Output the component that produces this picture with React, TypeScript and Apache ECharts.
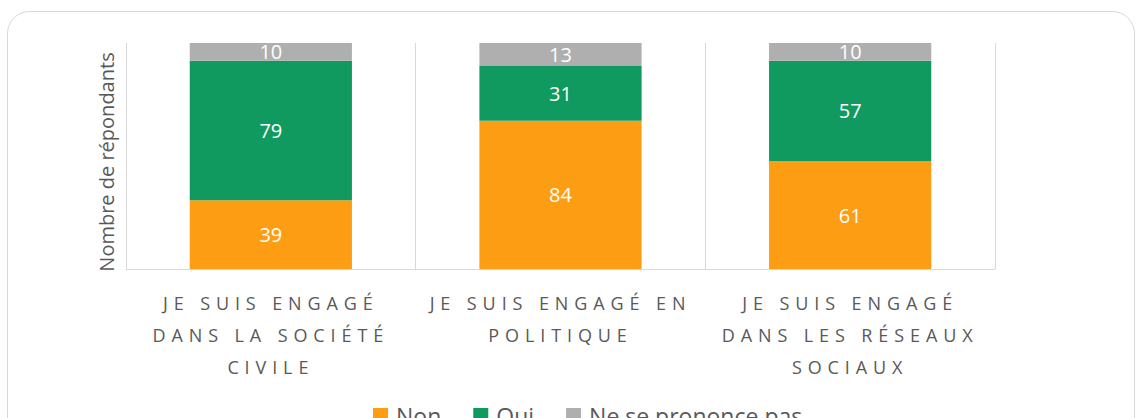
import React, { useEffect, useRef } from "react";
import * as echarts from "echarts";

const categories = [
  "JE SUIS ENGAGÉ\nDANS LA SOCIÉTÉ\nCIVILE",
  "JE SUIS ENGAGÉ EN\nPOLITIQUE",
  "JE SUIS ENGAGÉ\nDANS LES RÉSEAUX\nSOCIAUX",
];
const nonValues = [39, 84, 61];
const ouiValues = [79, 31, 57];
const nspValues = [10, 13, 10];
const seriesNames = ["Non", "Oui", "Ne se prononce pas"];
const yAxisName = "Nombre de répondants";

const COLORS = ["#FC9D13", "#109A5F", "#AFAFAF"];
const TEXT = "#595959";
const FONT = "'Open Sans', sans-serif";

export default function App() {
  const ref = useRef<HTMLDivElement>(null);
  useEffect(() => {
    if (!ref.current) return;
    const chart = echarts.init(ref.current, null, { renderer: "svg" });
    const values = [nonValues, ouiValues, nspValues];
    chart.setOption({
      animation: false,
      textStyle: { fontFamily: FONT },
      graphic: [
        {
          type: "rect",
          shape: { x: 7.5, y: 11.5, width: 1127, height: 520, r: 22 },
          style: { fill: "none", stroke: "#D9D9D9", lineWidth: 1 },
          silent: true,
        },
      ],
      legend: {
        left: 368,
        top: 399,
        itemWidth: 15,
        itemHeight: 15,
        itemGap: 32,
        icon: "rect",
        textStyle: { color: TEXT, fontSize: 23, fontFamily: FONT, padding: [0, 0, 0, 3] },
        data: seriesNames,
      },
      grid: { left: 126, top: 43, width: 869, height: 226, containLabel: false },
      xAxis: {
        type: "category",
        data: categories,
        axisLine: { show: true, lineStyle: { color: "#D9D9D9", width: 1 } },
        axisTick: { show: false },
        splitLine: { show: true, lineStyle: { color: "#D9D9D9", width: 1 } },
        axisLabel: {
          interval: 0,
          margin: 18,
          color: TEXT,
          fontSize: 18,
          lineHeight: 32,
          fontFamily: "'Open Sans', xcatlbl",
          align: "center",
        },
      },
      yAxis: {
        type: "value",
        min: 0,
        max: 128,
        name: yAxisName,
        nameLocation: "middle",
        nameGap: 10,
        nameTextStyle: { color: TEXT, fontSize: 20, fontFamily: FONT, padding: [0, 12, 0, 0] },
        axisLine: { show: false },
        axisTick: { show: false },
        axisLabel: { show: false },
        splitLine: { show: false },
      },
      series: seriesNames.map((name, i) => ({
        name,
        type: "bar",
        stack: "total",
        barCategoryGap: "44%",
        data: values[i],
        itemStyle: { color: COLORS[i] },
        label: {
          show: true,
          position: "inside",
          color: "#FFFFFF",
          fontSize: 20,
          fontFamily: FONT,
        },
      })),
    });
    return () => chart.dispose();
  }, []);
  return (
    <>
      <style>{`text[style*="xcatlbl"]{letter-spacing:5.9px;}`}</style>
      <div
        ref={ref}
        style={{ position: "absolute", left: 0, top: 0, width: 1140, height: 418, background: "#fff" }}
      />
    </>
  );
}
